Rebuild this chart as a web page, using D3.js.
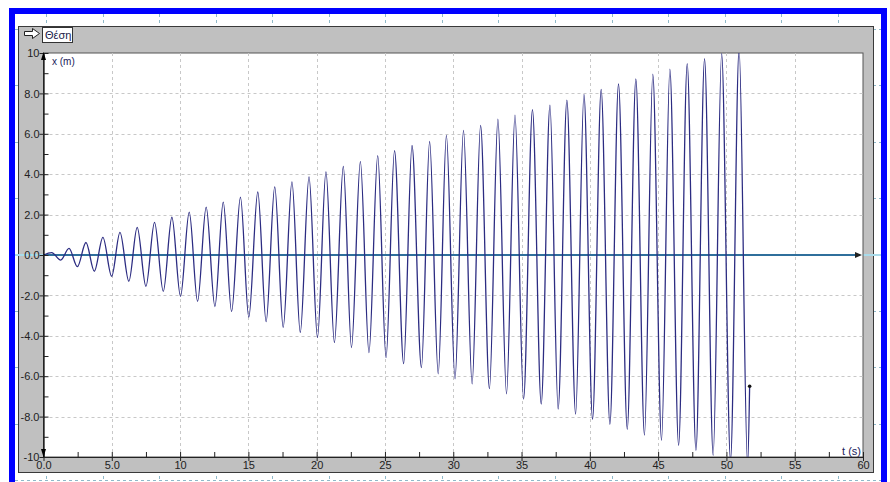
<!DOCTYPE html>
<html><head><meta charset="utf-8">
<script src="https://cdn.jsdelivr.net/npm/d3@7"></script>
<style>
html,body{margin:0;padding:0;background:#fff;}
svg{display:block;}
text{font-family:"Liberation Sans",Arial,sans-serif;}
</style></head>
<body>
<svg id="chart" width="890" height="482"></svg>
<script>
// ---- data ----
const chartTitle = "Θέση";
const yAxisLabel = "x (m)";
const xAxisLabel = "t (s)";
// times (s) of the start, every peak / trough, and the end of the run
const times = [0, 0.6, 1.26, 1.87, 2.48, 3.11, 3.72, 4.35, 4.99, 5.6, 6.25, 6.86, 7.5, 8.13, 8.77, 9.4,
  10.03, 10.67, 11.28, 11.91, 12.55, 13.16, 13.77, 14.42, 15.03, 15.69, 16.3, 16.93, 17.55, 18.19, 18.8, 19.44,
  20.06, 20.68, 21.3, 21.95, 22.55, 23.2, 23.83, 24.47, 25.08, 25.7, 26.37, 26.98, 27.67, 28.27, 28.9, 29.5,
  30.13, 30.75, 31.38, 32.0, 32.65, 33.27, 33.9, 34.52, 35.15, 35.8, 36.44, 37.08, 37.68, 38.32, 38.96, 39.57,
  40.2, 40.83, 41.47, 42.1, 42.74, 43.37, 44.0, 44.61, 45.25, 45.86, 46.5, 47.13, 47.77, 48.4, 49.03, 49.65,
  50.3, 50.93, 51.55, 51.7];
// position x (m) at those times
const positions = [0, 0.12, -0.25, 0.33, -0.58, 0.62, -0.8, 0.87, -1.05, 1.12, -1.3, 1.37, -1.55, 1.62, -1.8, 1.87,
  -2.05, 2.12, -2.3, 2.37, -2.55, 2.62, -2.8, 2.87, -3.08, 3.12, -3.3, 3.37, -3.58, 3.62, -3.83, 3.87,
  -4.08, 4.12, -4.33, 4.38, -4.58, 4.62, -4.83, 4.92, -5.08, 5.17, -5.38, 5.42, -5.58, 5.62, -5.88, 5.92,
  -6.13, 6.17, -6.38, 6.42, -6.62, 6.72, -6.87, 6.92, -7.13, 7.2, -7.38, 7.42, -7.63, 7.67, -7.88, 7.95,
  -8.13, 8.2, -8.38, 8.47, -8.63, 8.72, -8.92, 8.95, -9.17, 9.2, -9.42, 9.47, -9.67, 9.72, -9.92, 9.97,
  -10.17, 10.2, -10.4, -6.5];
const xTickValues = [0, 5, 10, 15, 20, 25, 30, 35, 40, 45, 50, 55, 60];
const xTickLabels = ["0.0", "5.0", "10", "15", "20", "25", "30", "35", "40", "45", "50", "55", "60"];
const xMinorTicks = [2.5, 7.5, 12.5, 17.5, 22.5, 27.5, 32.5, 37.5, 42.5, 47.5, 52.5, 57.5];
const yTickValues = [-10, -8, -6, -4, -2, 0, 2, 4, 6, 8, 10];
const yTickLabels = ["-10", "-8.0", "-6.0", "-4.0", "-2.0", "0.0", "2.0", "4.0", "6.0", "8.0", "10"];
const yMinorTicks = [-9, -7, -5, -3, -1, 1, 3, 5, 7, 9];

// ---- drawing ----
const svg = d3.select("#chart");
const W = 890, H = 482;
const L = 43.5, R = 863, T = 53, B = 457;
const x = d3.scaleLinear().domain([0, 60]).range([L, R]);
const y = d3.scaleLinear().domain([-10, 10]).range([B, T]);

// white background inside blue frame
svg.append("rect").attr("x", 0).attr("y", 0).attr("width", W).attr("height", H).attr("fill", "#fff");

// simulation world grid (light dashed)
const sim = svg.append("g").attr("stroke", "#8fb9c9").attr("stroke-width", 1).attr("stroke-dasharray", "3,3");
d3.range(0, 15).forEach(k => {
  const gx = Math.round(46 + 56.55 * k) + 0.5;
  sim.append("line").attr("x1", gx).attr("x2", gx).attr("y1", 14).attr("y2", H);
});
d3.range(0, 9).forEach(k => {
  const gy = Math.round(29 + 56.4 * k) + 0.5;
  sim.append("line").attr("x1", 15).attr("x2", 881).attr("y1", gy).attr("y2", gy);
});

// gray window
svg.append("rect").attr("x", 18.5).attr("y", 26.5).attr("width", 855).attr("height", 446)
  .attr("fill", "#c0c0c0").attr("stroke", "#3a3a3a").attr("stroke-width", 1);

// light blue world axis line
svg.append("line").attr("x1", 15).attr("x2", 881).attr("y1", y(0)).attr("y2", y(0))
  .attr("stroke", "#a9dbea").attr("stroke-width", 2);

// plot area
svg.append("rect").attr("x", L).attr("y", T).attr("width", R - L).attr("height", B - T)
  .attr("fill", "#fff").attr("stroke", "#555").attr("stroke-width", 1);

// title: arrow icon + box
svg.append("path").attr("d", "M24.5,31.5 H32.5 V28.5 L39.5,33.5 L32.5,38.5 V35.5 H24.5 Z")
  .attr("fill", "#fff").attr("stroke", "#222").attr("stroke-width", 1);
svg.append("rect").attr("x", 42.5).attr("y", 27.5).attr("width", 30).attr("height", 15)
  .attr("fill", "#fff").attr("stroke", "#333");
svg.append("text").attr("x", 45).attr("y", 39).attr("font-size", 11).attr("fill", "#1a1a4a").text(chartTitle);

// grid
const grid = svg.append("g").attr("stroke", "#c8c8c8").attr("stroke-dasharray", "3,3").attr("stroke-width", 1);
xTickValues.filter(v => v > 0 && v < 60).forEach(v => {
  grid.append("line").attr("x1", Math.round(x(v)) + 0.5).attr("x2", Math.round(x(v)) + 0.5).attr("y1", T).attr("y2", B);
});
yTickValues.filter(v => v > -10 && v < 10 && v !== 0).forEach(v => {
  grid.append("line").attr("x1", L).attr("x2", R).attr("y1", Math.round(y(v)) + 0.5).attr("y2", Math.round(y(v)) + 0.5);
});

// zero line in plot with arrow
svg.append("line").attr("x1", L).attr("x2", 860).attr("y1", y(0)).attr("y2", y(0))
  .attr("stroke", "#2f6f9c").attr("stroke-width", 2);
svg.append("path").attr("d", `M862,${y(0)} L855,${y(0) - 3} L855,${y(0) + 3} Z`).attr("fill", "#222");

// data line
svg.append("clipPath").attr("id", "clip").append("rect")
  .attr("x", L).attr("y", T).attr("width", R - L).attr("height", B - T);
const pts = times.map((t, i) => [t, positions[i]]);
const line = d3.line().x(d => x(d[0])).y(d => y(d[1])).curve(d3.curveMonotoneX);
svg.append("path").attr("d", line(pts)).attr("clip-path", "url(#clip)")
  .attr("fill", "none").attr("stroke", "#2c2c82").attr("stroke-width", 1.3);
const last = pts[pts.length - 1];
svg.append("circle").attr("cx", x(last[0])).attr("cy", y(last[1])).attr("r", 1.8).attr("fill", "#111");

// x axis
const xAxis = svg.append("g").attr("transform", `translate(0,${B})`)
  .call(d3.axisBottom(x).tickValues(xTickValues).tickFormat((d, i) => xTickLabels[i]).tickSizeOuter(0).tickSizeInner(4));
xAxis.select(".domain").attr("stroke", "#222");
xAxis.selectAll(".tick line").attr("y1", -5).attr("y2", 4).attr("stroke", "#222");
xAxis.selectAll(".tick text").attr("y", 4).attr("dy", "0.71em")
  .attr("font-size", 11).attr("fill", "#222").attr("font-family", "Liberation Sans, Arial, sans-serif");
const xMinor = svg.append("g").attr("transform", `translate(0,${B})`)
  .call(d3.axisBottom(x).tickValues(xMinorTicks).tickFormat("").tickSizeOuter(0).tickSizeInner(3));
xMinor.select(".domain").remove();
xMinor.selectAll(".tick line").attr("y1", -5).attr("y2", 1).attr("stroke", "#222");

// y axis
const yAxis = svg.append("g").attr("transform", `translate(${L},0)`)
  .call(d3.axisLeft(y).tickValues(yTickValues).tickFormat((d, i) => yTickLabels[i]).tickSizeOuter(0).tickSizeInner(4));
yAxis.select(".domain").attr("stroke", "#000").attr("stroke-width", 1.2);
yAxis.selectAll(".tick line").attr("x1", -4).attr("x2", 5).attr("stroke", "#222");
yAxis.selectAll(".tick text").attr("x", -4).attr("dy", "0.33em")
  .attr("font-size", 11).attr("fill", "#222").attr("font-family", "Liberation Sans, Arial, sans-serif");
const yMinor = svg.append("g").attr("transform", `translate(${L},0)`)
  .call(d3.axisLeft(y).tickValues(yMinorTicks).tickFormat("").tickSizeOuter(0).tickSizeInner(0));
yMinor.select(".domain").remove();
yMinor.selectAll(".tick line").attr("x1", 0).attr("x2", 5).attr("stroke", "#222");
// axis arrows
svg.append("path").attr("d", `M${L},${T - 1} L${L - 2.5},${T + 7} L${L + 2.5},${T + 7} Z`).attr("fill", "#000");
svg.append("path").attr("d", `M${L},${B} L${L - 2.5},${B - 8} L${L + 2.5},${B - 8} Z`).attr("fill", "#000");

// axis labels
svg.append("text").attr("x", 52).attr("y", 65).attr("font-size", 10).attr("fill", "#1a1a5a").text(yAxisLabel);
svg.append("text").attr("x", 861).attr("y", 455).attr("text-anchor", "end").attr("font-size", 11).attr("fill", "#1a1a5a").text(xAxisLabel);

// blue frame
svg.append("rect").attr("x", 12).attr("y", 11).attr("width", 872).attr("height", 490)
  .attr("fill", "none").attr("stroke", "#0000ff").attr("stroke-width", 6);
</script>
</body></html>
